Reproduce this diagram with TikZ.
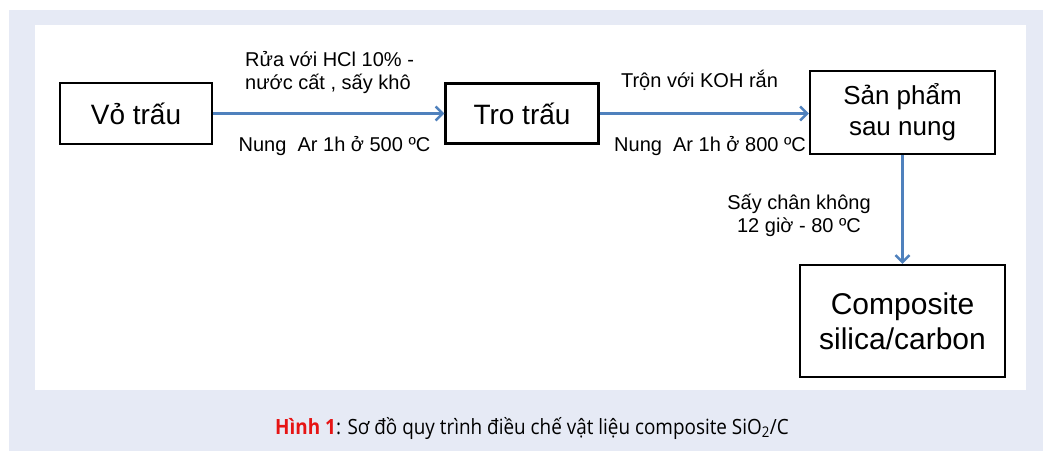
\documentclass[tikz,border=0pt]{standalone}
\usepackage{fontspec}
\setmainfont{Liberation Sans}
\newfontfamily\capfont[FakeStretch=0.9]{Open Sans}
\usetikzlibrary{arrows.meta}
\definecolor{panel}{RGB}{230,234,245}
\definecolor{flow}{RGB}{79,129,189}
\definecolor{capred}{RGB}{230,20,20}
\begin{document}
\begin{tikzpicture}[x=1pt,y=-1pt,
  stepbox/.style={draw=black,line width=2.4pt,fill=white,inner sep=0pt,align=center},
  flowarrow/.style={draw=flow,line width=2.8pt,-{Straight Barb[length=7pt,width=14pt,line width=2.4pt]}},
  note/.style={inner sep=0pt,font=\fontsize{20}{23}\selectfont}
]
% background panel and white drawing area
\useasboundingbox (0,0) rectangle (1043,451);
\fill[panel] (9,10) rectangle (1043,451);
\fill[white] (35,25) rectangle (1026,390);

% process steps
\node[stepbox,minimum width=152pt,minimum height=61pt,font=\fontsize{28}{32}\selectfont] (vo) at (136,113.5) {Vỏ trấu};
\node[stepbox,minimum width=153pt,minimum height=60pt,font=\fontsize{28}{32}\selectfont] (tro) at (522,113.5) {Tro trấu};
\node[stepbox,minimum width=185pt,minimum height=83pt,font=\fontsize{26}{31}\selectfont] (sp) at (902.5,112.5) {Sản phẩm\\sau nung};
\node[stepbox,minimum width=205pt,minimum height=112pt,font=\fontsize{30}{35}\selectfont] (comp) at (902.5,321) {Composite\\silica/carbon};

% connectors
\draw[flowarrow] (vo.east) -- (tro.west);
\draw[flowarrow] (tro.east) -- (tro.east -| sp.west);
\draw[flowarrow] (sp.south) -- (comp.north);

% step conditions
\node[note,anchor=west,align=left] (l1) at (245,73) {Rửa với HCl 10\% -\\nước cất , sấy khô};
\node[note,anchor=center] (l2) at (334.5,146) {Nung\ \ Ar 1h ở 500 ºC};
\node[note,anchor=center] (l3) at (699.5,80) {Trộn với KOH rắn};
\node[note,anchor=center] (l4) at (710,146) {Nung\ \ Ar 1h ở 800 ºC};
\node[note,anchor=center,align=center] (l5) at (799,215) {Sấy chân không\\12 giờ - 80 ºC};

% caption
\node[inner sep=0pt,font=\capfont\fontsize{21}{24}\selectfont] (cap) at (532,428)
  {\textcolor{capred}{\bfseries Hình 1}: Sơ đồ quy trình điều chế vật liệu composite SiO\textsubscript{2}/C};
\end{tikzpicture}
\end{document}
